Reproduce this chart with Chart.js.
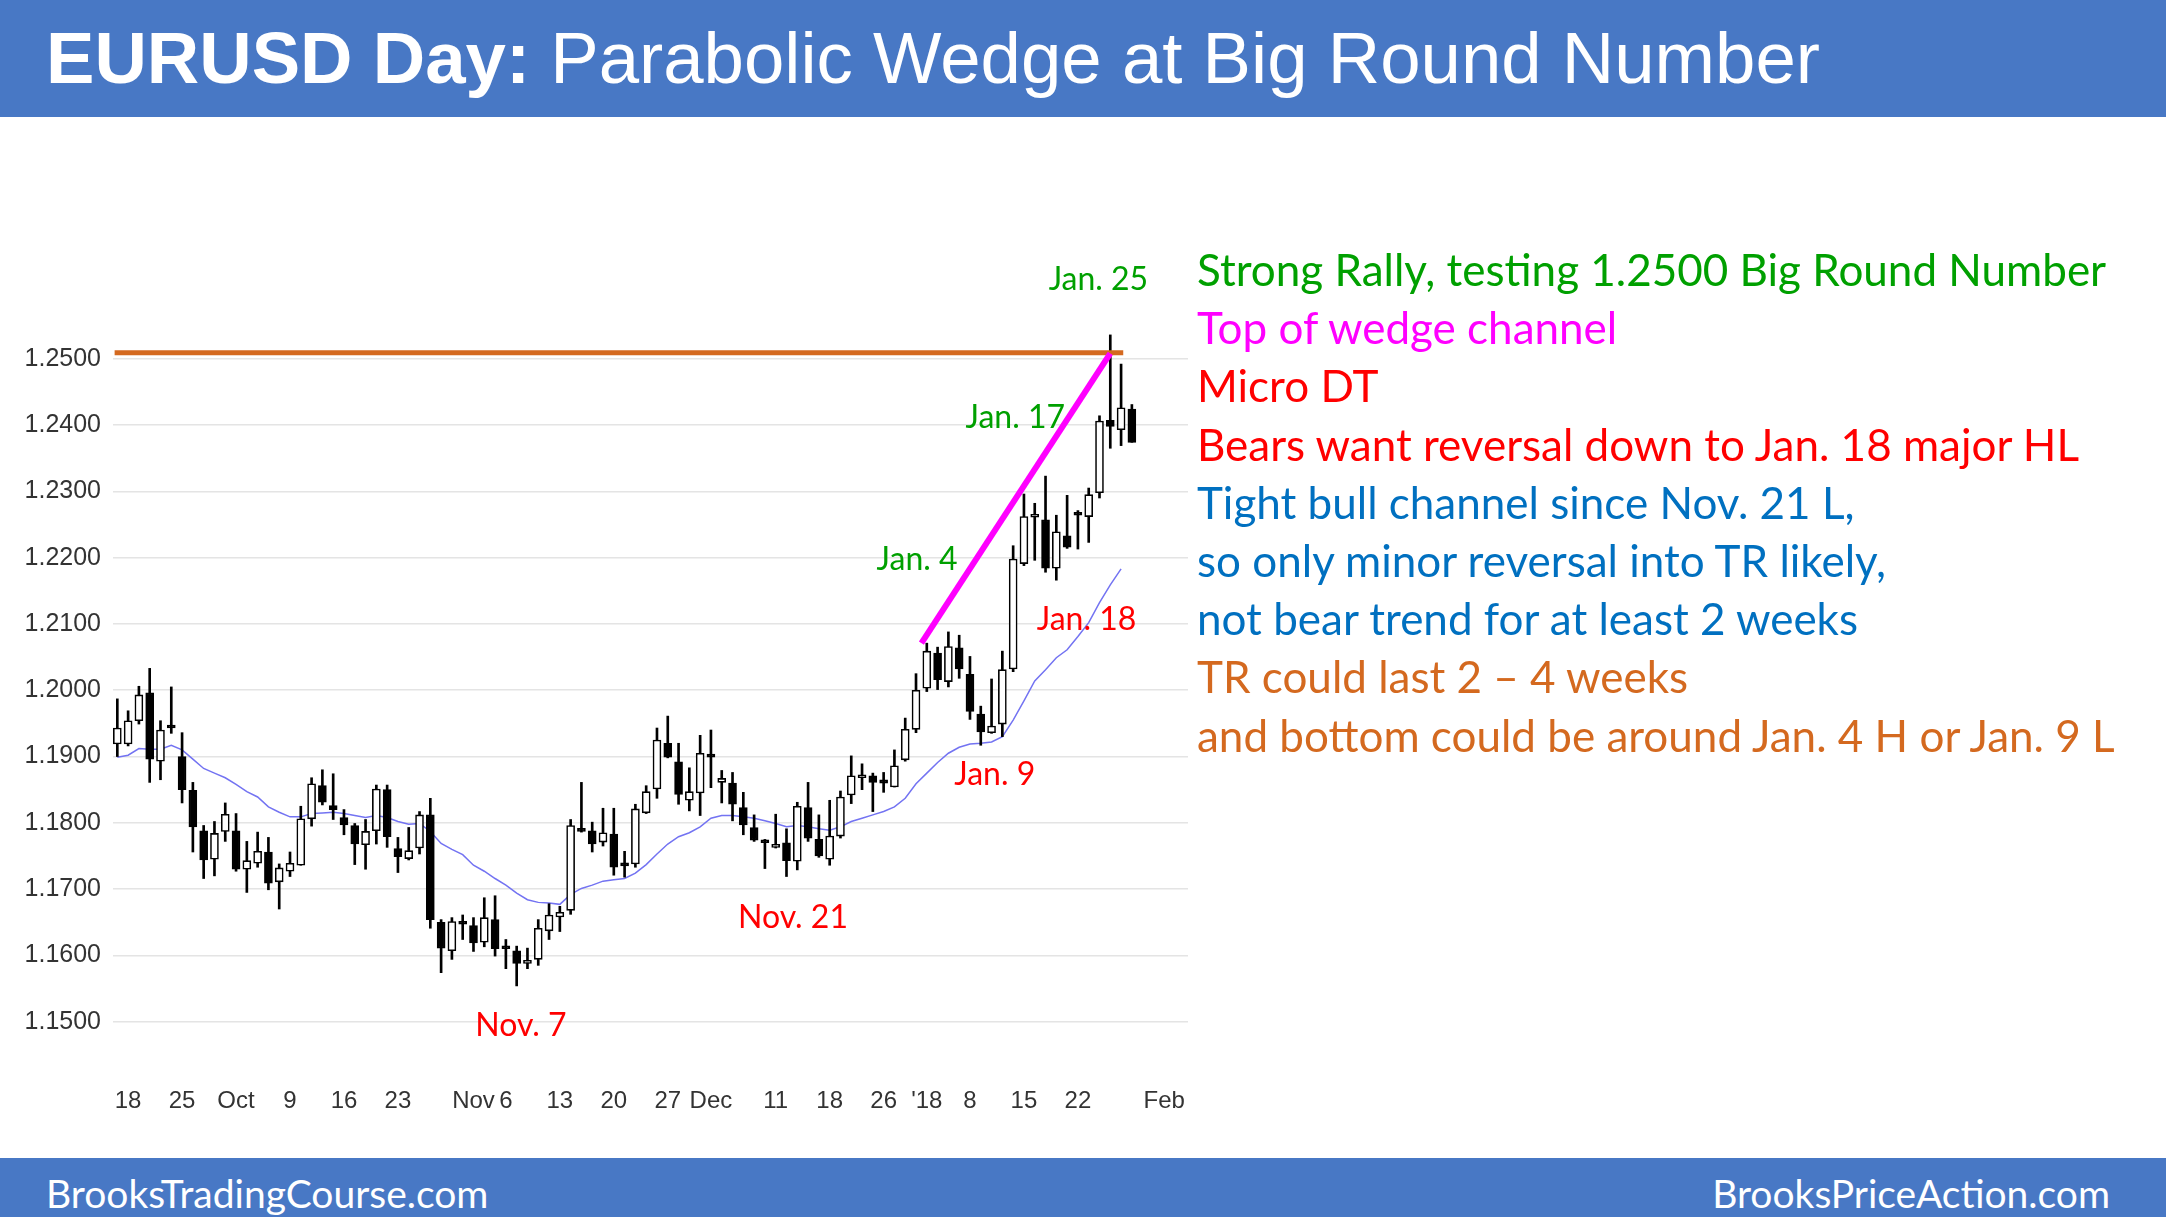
<!DOCTYPE html>
<html>
<head>
<meta charset="utf-8">
<title>EURUSD Day</title>
<script src="https://cdn.jsdelivr.net/npm/chart.js@4.4.1/dist/chart.umd.min.js"></script>
<style>
  body { margin: 0; width: 2166px; height: 1217px; position: relative; overflow: hidden; background: #fff; }
  .band { position: absolute; left: 0; width: 2166px; background: #4878c5; }
  #title { position: absolute; left: 46px; top: 22px; font: 72.6px/1 "Liberation Sans", Arial, sans-serif; color: #fff; white-space: nowrap; }
  .foot { position: absolute; top: 1174px; font: 39px/1 Lato, sans-serif; color: #fff; white-space: nowrap; }
  #notes { position: absolute; left: 1197px; top: 240px; font: 44px/58.2px Lato, sans-serif; white-space: nowrap; }
  #wrap { position: absolute; left: 0; top: 117px; width: 2166px; height: 1041px; }
</style>
</head>
<body>
<div class="band" style="top:0;height:117px"></div>
<div id="title"><b>EURUSD Day:</b> Parabolic Wedge at Big Round Number</div>

<div id="wrap"><canvas id="eurusd"></canvas></div>

<div id="notes">
  <div style="color:#00a000">Strong Rally, testing 1.2500 Big Round Number</div>
  <div style="color:#ff00ff">Top of wedge channel</div>
  <div style="color:#ff0000">Micro DT</div>
  <div style="color:#ff0000">Bears want reversal down to Jan. 18 major HL</div>
  <div style="color:#0070c0">Tight bull channel since Nov. 21 L,</div>
  <div style="color:#0070c0">so only minor reversal into TR likely,</div>
  <div style="color:#0070c0">not bear trend for at least 2 weeks</div>
  <div style="color:#d4691f">TR could last 2 – 4 weeks</div>
  <div style="color:#d4691f">and bottom could be around Jan. 4 H or Jan. 9 L</div>
</div>

<div class="band" style="top:1158px;height:59px"></div>
<div class="foot" style="left:46px">BrooksTradingCourse.com</div>
<div class="foot" style="right:56px">BrooksPriceAction.com</div>

<script>
/** EURUSD DAILY CANDLES **/

var dates = [
  "2017-09-15",
  "2017-09-18", "2017-09-19", "2017-09-20", "2017-09-21", "2017-09-22",
  "2017-09-25", "2017-09-26", "2017-09-27", "2017-09-28", "2017-09-29",
  "2017-10-02", "2017-10-03", "2017-10-04", "2017-10-05", "2017-10-06",
  "2017-10-09", "2017-10-10", "2017-10-11", "2017-10-12", "2017-10-13",
  "2017-10-16", "2017-10-17", "2017-10-18", "2017-10-19", "2017-10-20",
  "2017-10-23", "2017-10-24", "2017-10-25", "2017-10-26", "2017-10-27",
  "2017-10-30", "2017-10-31", "2017-11-01", "2017-11-02", "2017-11-03",
  "2017-11-06", "2017-11-07", "2017-11-08", "2017-11-09", "2017-11-10",
  "2017-11-13", "2017-11-14", "2017-11-15", "2017-11-16", "2017-11-17",
  "2017-11-20", "2017-11-21", "2017-11-22", "2017-11-23", "2017-11-24",
  "2017-11-27", "2017-11-28", "2017-11-29", "2017-11-30", "2017-12-01",
  "2017-12-04", "2017-12-05", "2017-12-06", "2017-12-07", "2017-12-08",
  "2017-12-11", "2017-12-12", "2017-12-13", "2017-12-14", "2017-12-15",
  "2017-12-18", "2017-12-19", "2017-12-20", "2017-12-21", "2017-12-22",
  "2017-12-26", "2017-12-27", "2017-12-28", "2017-12-29",
  "2018-01-02", "2018-01-03", "2018-01-04", "2018-01-05",
  "2018-01-08", "2018-01-09", "2018-01-10", "2018-01-11", "2018-01-12",
  "2018-01-15", "2018-01-16", "2018-01-17", "2018-01-18", "2018-01-19",
  "2018-01-22", "2018-01-23", "2018-01-24", "2018-01-25", "2018-01-26",
  "2018-01-29"
];

var open = [
  1.1919, 1.1919, 1.1954, 1.1996, 1.1893, 1.1946, 1.1900, 1.1849, 1.1788, 1.1745,
  1.1787, 1.1788, 1.1730, 1.1739, 1.1756, 1.1711, 1.1727, 1.1736, 1.1806, 1.1856,
  1.1826, 1.1808, 1.1796, 1.1767, 1.1788, 1.1850, 1.1761, 1.1746, 1.1762, 1.1812,
  1.1650, 1.1607, 1.1650, 1.1645, 1.1620, 1.1654, 1.1612, 1.1607, 1.1588, 1.1594,
  1.1637, 1.1658, 1.1668, 1.1789, 1.1788, 1.1771, 1.1783, 1.1738, 1.1738, 1.1815,
  1.1851, 1.1920, 1.1892, 1.1834, 1.1845, 1.1901, 1.1861, 1.1860, 1.1823, 1.1793,
  1.1771, 1.1763, 1.1770, 1.1742, 1.1823, 1.1775, 1.1745, 1.1780, 1.1842, 1.1868,
  1.1871, 1.1865, 1.1854, 1.1895, 1.1941, 1.2003, 1.2056, 1.2013, 1.2064, 1.2024,
  1.1964, 1.1936, 1.1949, 1.2032, 1.2191, 1.2261, 1.2257, 1.2184, 1.2233, 1.2265,
  1.2262, 1.2298, 1.2407, 1.2393, 1.2424
];

var high = [
  1.1987, 1.1969, 1.2006, 1.2033, 1.1954, 1.2005, 1.1936, 1.1861, 1.1796, 1.1802,
  1.1830, 1.1814, 1.1772, 1.1786, 1.1778, 1.1738, 1.1756, 1.1825, 1.1868, 1.1880,
  1.1874, 1.1820, 1.1799, 1.1805, 1.1857, 1.1857, 1.1778, 1.1793, 1.1817, 1.1837,
  1.1654, 1.1657, 1.1661, 1.1657, 1.1687, 1.1690, 1.1624, 1.1614, 1.1611, 1.1654,
  1.1678, 1.1674, 1.1805, 1.1861, 1.1801, 1.1822, 1.1822, 1.1757, 1.1828, 1.1856,
  1.1943, 1.1961, 1.1920, 1.1883, 1.1932, 1.1940, 1.1879, 1.1876, 1.1846, 1.1812,
  1.1775, 1.1813, 1.1791, 1.1831, 1.1861, 1.1812, 1.1834, 1.1848, 1.1901, 1.1889,
  1.1875, 1.1876, 1.1910, 1.1958, 1.2025, 1.2071, 1.2065, 1.2088, 1.2083, 1.2051,
  1.1976, 1.2017, 1.2059, 1.2218, 1.2296, 1.2282, 1.2323, 1.2264, 1.2294, 1.2271,
  1.2305, 1.2414, 1.2536, 1.2492, 1.2431
];

var low = [
  1.1900, 1.1916, 1.1949, 1.1861, 1.1865, 1.1935, 1.1830, 1.1756, 1.1716, 1.1720,
  1.1772, 1.1727, 1.1695, 1.1733, 1.1699, 1.1670, 1.1719, 1.1736, 1.1795, 1.1827,
  1.1805, 1.1782, 1.1737, 1.1730, 1.1768, 1.1763, 1.1725, 1.1744, 1.1753, 1.1641,
  1.1574, 1.1594, 1.1624, 1.1606, 1.1613, 1.1599, 1.1580, 1.1554, 1.1580, 1.1585,
  1.1624, 1.1636, 1.1662, 1.1786, 1.1756, 1.1765, 1.1721, 1.1718, 1.1733, 1.1814,
  1.1837, 1.1898, 1.1828, 1.1818, 1.1811, 1.1853, 1.1830, 1.1803, 1.1782, 1.1772,
  1.1731, 1.1762, 1.1719, 1.1729, 1.1772, 1.1748, 1.1736, 1.1777, 1.1829, 1.1850,
  1.1817, 1.1846, 1.1854, 1.1893, 1.1936, 1.1998, 1.2001, 1.2005, 1.2018, 1.1956,
  1.1917, 1.1935, 1.1930, 1.2028, 1.2188, 1.2196, 1.2178, 1.2166, 1.2214, 1.2213,
  1.2223, 1.2290, 1.2365, 1.2369, 1.2374
];

var close = [
  1.1943, 1.1954, 1.1993, 1.1896, 1.1940, 1.1943, 1.1850, 1.1794, 1.1744, 1.1784,
  1.1813, 1.1730, 1.1743, 1.1757, 1.1709, 1.1732, 1.1739, 1.1806, 1.1859, 1.1831,
  1.1820, 1.1797, 1.1768, 1.1787, 1.1851, 1.1779, 1.1749, 1.1758, 1.1812, 1.1654,
  1.1611, 1.1651, 1.1647, 1.1619, 1.1657, 1.1610, 1.1610, 1.1588, 1.1592, 1.1641,
  1.1661, 1.1665, 1.1796, 1.1787, 1.1768, 1.1785, 1.1733, 1.1735, 1.1821, 1.1847,
  1.1925, 1.1899, 1.1843, 1.1847, 1.1905, 1.1899, 1.1867, 1.1828, 1.1797, 1.1774,
  1.1770, 1.1767, 1.1743, 1.1825, 1.1777, 1.1750, 1.1780, 1.1839, 1.1871, 1.1872,
  1.1861, 1.1860, 1.1886, 1.1941, 1.2000, 1.2059, 1.2016, 1.2066, 1.2032, 1.1968,
  1.1937, 1.1946, 1.2031, 1.2198, 1.2262, 1.2263, 1.2184, 1.2239, 1.2216, 1.2264,
  1.2295, 1.2406, 1.2398, 1.2426, 1.2374
];

// moving average as drawn on the chart (no value on the last bar)
var ma20 = [
  1.1899, 1.1902, 1.1912, 1.1911, 1.1911, 1.1917, 1.1910, 1.1896, 1.1882, 1.1875,
  1.1868, 1.1858, 1.1847, 1.1839, 1.1824, 1.1816, 1.1809, 1.1809, 1.1814, 1.1815,
  1.1816, 1.1814, 1.1811, 1.1808, 1.1811, 1.1808, 1.1802, 1.1798, 1.1799, 1.1787,
  1.1769, 1.1760, 1.1752, 1.1736, 1.1727, 1.1716, 1.1706, 1.1694, 1.1684, 1.1680,
  1.1679, 1.1677, 1.1692, 1.1701, 1.1706, 1.1712, 1.1714, 1.1716, 1.1724, 1.1737,
  1.1753, 1.1768, 1.1779, 1.1785, 1.1794, 1.1807, 1.1811, 1.1811, 1.1809, 1.1807,
  1.1803, 1.1799, 1.1794, 1.1796, 1.1794, 1.1791, 1.1789, 1.1794, 1.1802, 1.1807,
  1.1812, 1.1817, 1.1824, 1.1837, 1.1859, 1.1875, 1.1891, 1.1905, 1.1914, 1.1919,
  1.1920, 1.1922, 1.1930, 1.1955, 1.1984, 1.2014, 1.2031, 1.2049, 1.2061, 1.2081,
  1.2102, 1.2132, 1.2159, 1.2183, null
];

var yTicks = [1.15, 1.16, 1.17, 1.18, 1.19, 1.20, 1.21, 1.22, 1.23, 1.24, 1.25];

// bar index of each date label (Feb 1 lies past the last bar)
var xTickPos = [1, 6, 11, 16, 21, 26, 33, 36, 41, 46, 51, 55, 61, 66, 71, 75, 79, 84, 89, 97];
var xTickLabels = ["18", "25", "Oct", "9", "16", "23", "Nov", "6", "13", "20", "27", "Dec",
                   "11", "18", "26", "'18", "8", "15", "22", "Feb"];

// drawn lines
var roundLevel = 1.2509;
var roundSpan = [-0.25, 93.2];
var wedgeIdx = [74.5, 92];
var wedgePrice = [1.2071, 1.2508];

var GREEN = '#00a000', RED = '#ff0000';
var notes = [
  { text: 'Jan. 25', idx: 90.9, price: 1.2604, color: GREEN },
  { text: 'Jan. 17', idx: 83.2, price: 1.2396, color: GREEN },
  { text: 'Jan. 4',  idx: 74.1, price: 1.2182, color: GREEN },
  { text: 'Jan. 18', idx: 89.8, price: 1.2091, color: RED },
  { text: 'Jan. 9',  idx: 81.3, price: 1.1857, color: RED },
  { text: 'Nov. 21', idx: 62.6, price: 1.1642, color: RED },
  { text: 'Nov. 7',  idx: 37.4, price: 1.1479, color: RED }
];

var noteLabels = {
  id: 'noteLabels',
  afterDatasetsDraw: function (chart) {
    var c = chart.ctx, xs = chart.scales.x, ys = chart.scales.y;
    c.save();
    c.font = '32px Lato';
    c.textAlign = 'center';
    c.textBaseline = 'alphabetic';
    notes.forEach(function (n) {
      c.fillStyle = n.color;
      c.fillText(n.text, xs.getPixelForValue(n.idx), ys.getPixelForValue(n.price));
    });
    c.restore();
  }
};

var bodies = dates.map(function (d, i) { return { x: i, y: [open[i], close[i]] }; });
var wicks = dates.map(function (d, i) { return { x: i, y: [low[i], high[i]] }; });
var bodyColors = dates.map(function (d, i) { return close[i] >= open[i] ? '#ffffff' : '#000000'; });

var eurusd = new Chart(document.getElementById('eurusd'), {
  type: 'bar',
  data: {
    datasets: [
      { type: 'line', data: wedgeIdx.map(function (x, i) { return { x: x, y: wedgePrice[i] }; }),
        borderColor: '#ff00ff', borderWidth: 6, pointRadius: 0, order: -2 },
      { type: 'line', data: roundSpan.map(function (x) { return { x: x, y: roundLevel }; }),
        borderColor: '#d4691f', borderWidth: 5, pointRadius: 0, order: -1 },
      { data: bodies, backgroundColor: bodyColors, borderColor: '#000', borderWidth: 1.6,
        borderSkipped: false, barThickness: 8, minBarLength: 3, grouped: false, order: 0 },
      { data: wicks, backgroundColor: '#000', borderWidth: 0, barThickness: 2, grouped: false, order: 1 },
      { type: 'line', data: ma20.map(function (v, i) { return { x: i, y: v }; }),
        borderColor: '#7373f2', borderWidth: 1.5, pointRadius: 0, order: 2 }
    ]
  },
  options: {
    responsive: true,
    maintainAspectRatio: false,
    animation: false,
    events: [],
    layout: { padding: { top: 202, right: 978, bottom: 0, left: 0 } },
    plugins: { legend: false, tooltip: { enabled: false } },
    scales: {
      x: {
        type: 'linear', min: -0.4, max: 99.2, offset: false,
        grid: { display: false }, border: { display: false },
        afterBuildTicks: function (s) { s.ticks = xTickPos.map(function (v) { return { value: v }; }); },
        afterFit: function (s) { s.height = 70; },
        ticks: {
          autoSkip: false, maxRotation: 0, padding: -7, color: '#333',
          font: { family: 'Liberation Sans', size: 24, lineHeight: 1 },
          callback: function (v) { return xTickLabels[xTickPos.indexOf(v)]; }
        }
      },
      y: {
        min: 1.14, max: 1.256,
        grid: { color: '#e4e4e4', lineWidth: 1.5, drawTicks: false },
        border: { display: false },
        afterBuildTicks: function (s) { s.ticks = yTicks.map(function (v) { return { value: v }; }); },
        afterFit: function (s) { s.width = 113; },
        ticks: {
          padding: 12, color: '#333',
          font: { family: 'Liberation Sans', size: 25 },
          callback: function (v) { return v.toFixed(4); }
        }
      }
    }
  },
  plugins: [noteLabels]
});
</script>
</body>
</html>
